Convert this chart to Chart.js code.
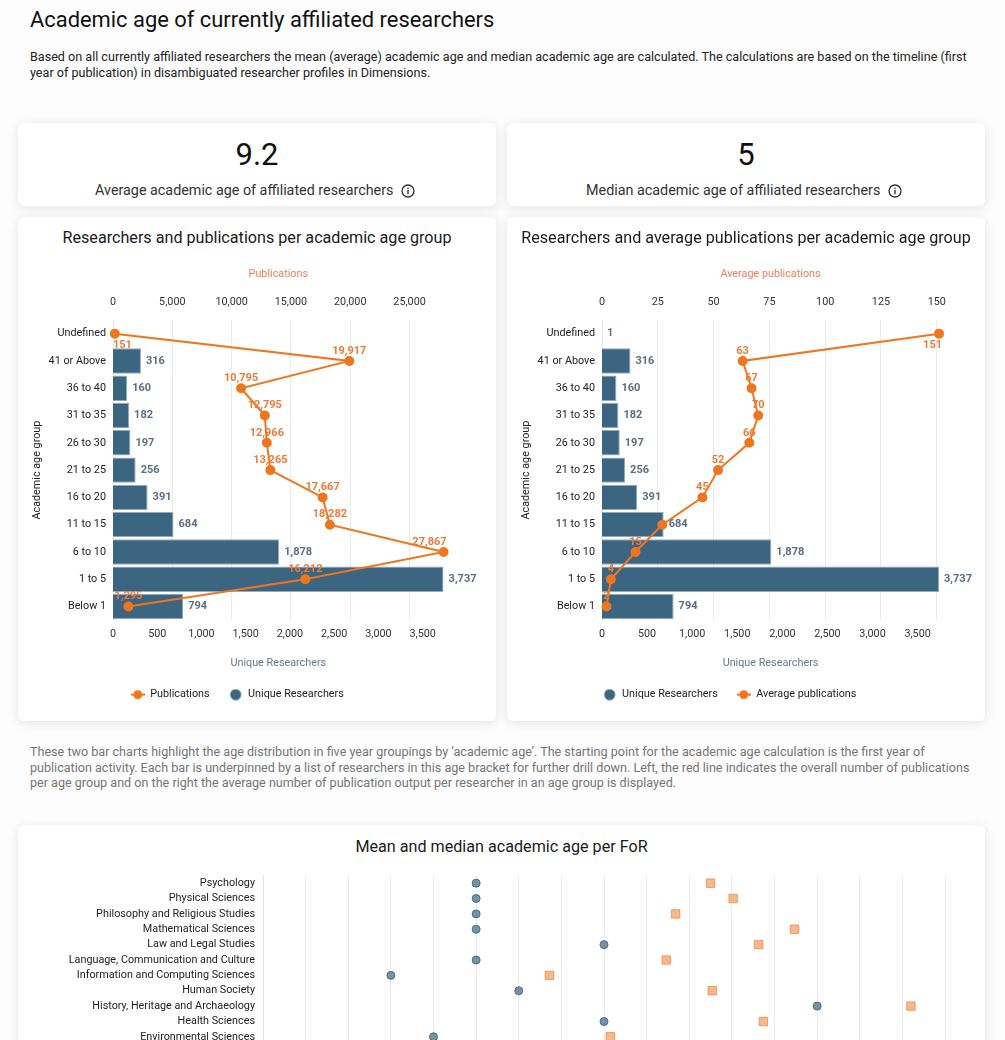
<!DOCTYPE html>
<html>
<head>
<meta charset="utf-8">
<title>Academic age of currently affiliated researchers</title>
<script src="https://cdn.jsdelivr.net/npm/chart.js@4"></script>
<style>
    html, body { margin: 0; padding: 0; width: 1005px; height: 1040px; overflow: hidden; background: #fdfdfd; }
    body { position: relative; font-family: Roboto, sans-serif; color: #111; }
    .text { position: absolute; white-space: nowrap; }
    #mainTitle { left: 30px; top: 6px; font-size: 21.9px; line-height: 28px; }
    #intro { left: 30px; top: 49px; font-size: 12.58px; line-height: 15.5px; color: #222; }
    #note { left: 30px; top: 744px; font-size: 12.58px; line-height: 15.5px; color: #757575; }
    .card { position: absolute; background: #fff; border-radius: 6px; box-shadow: 0 2px 12px rgba(0, 0, 0, 0.1); }
    .card canvas { position: absolute; left: 0; }
    .cardTitle { position: absolute; left: 0; right: 0; text-align: center; font-size: 16.15px; line-height: 20px; color: #1a1a1a; }
    .bigNumber { position: absolute; left: 0; right: 0; top: 13px; text-align: center; font-size: 31px; line-height: 38px; color: #111; }
    .caption { position: absolute; left: 0; right: 4px; top: 58px; text-align: center; font-size: 14.33px; line-height: 18px; color: #333; }
    .caption svg { vertical-align: -3px; margin-left: 4px; }
</style>
</head>
<body>
<div class="text" id="mainTitle">Academic age of currently affiliated researchers</div>
<div class="text" id="intro">Based on all currently affiliated researchers the mean (average) academic age and median academic age are calculated. The calculations are based on the timeline (first<br>year of publication) in disambiguated researcher profiles in Dimensions.</div>

<div class="card" style="left:18px;top:123px;width:478px;height:83px">
    <div class="bigNumber">9.2</div>
    <div class="caption">Average academic age of affiliated researchers
        <svg width="14" height="14" viewBox="0 0 14 14"><circle cx="7" cy="7" r="6" fill="none" stroke="#333" stroke-width="1.3"/><rect x="6.3" y="6" width="1.4" height="4.2" fill="#333"/><rect x="6.3" y="3.7" width="1.4" height="1.4" fill="#333"/></svg>
    </div>
</div>
<div class="card" style="left:507px;top:123px;width:478px;height:83px">
    <div class="bigNumber">5</div>
    <div class="caption">Median academic age of affiliated researchers
        <svg width="14" height="14" viewBox="0 0 14 14"><circle cx="7" cy="7" r="6" fill="none" stroke="#333" stroke-width="1.3"/><rect x="6.3" y="6" width="1.4" height="4.2" fill="#333"/><rect x="6.3" y="3.7" width="1.4" height="1.4" fill="#333"/></svg>
    </div>
</div>

<div class="card" style="left:18px;top:217px;width:478px;height:504px">
    <div class="cardTitle" style="top:11px">Researchers and publications per academic age group</div>
    <canvas id="publicationsChart" width="478" height="503" style="top:1px"></canvas>
</div>
<div class="card" style="left:507px;top:217px;width:478px;height:504px">
    <div class="cardTitle" style="top:11px">Researchers and average publications per academic age group</div>
    <canvas id="averageChart" width="478" height="503" style="top:1px"></canvas>
</div>

<div class="text" id="note">These two bar charts highlight the age distribution in five year groupings by ‘academic age’. The starting point for the academic age calculation is the first year of<br>publication activity. Each bar is underpinned by a list of researchers in this age bracket for further drill down. Left, the red line indicates the overall number of publications<br>per age group and on the right the average number of publication output per researcher in an age group is displayed.</div>

<div class="card" style="left:18px;top:825px;width:967px;height:400px">
    <div class="cardTitle" style="top:12px">Mean and median academic age per FoR</div>
    <canvas id="forChart" width="967" height="198" style="top:36px"></canvas>
</div>

<script>
const ageGroups = ['Undefined', '41 or Above', '36 to 40', '31 to 35', '26 to 30', '21 to 25', '16 to 20', '11 to 15', '6 to 10', '1 to 5', 'Below 1'];
const researchersLeft = [0, 316, 160, 182, 197, 256, 391, 684, 1878, 3737, 794];
const researchersRight = [1, 316, 160, 182, 197, 256, 391, 684, 1878, 3737, 794];
const publications = [151, 19917, 10795, 12795, 12966, 13265, 17667, 18282, 27867, 16212, 1295];
const averagePublications = [151, 63, 67, 70, 66, 52, 45, 27, 15, 4, 2];
const researcherTicks = [0, 500, 1000, 1500, 2000, 2500, 3000, 3500];
const publicationTicks = [0, 5000, 10000, 15000, 20000, 25000];
const averageTicks = [0, 25, 50, 75, 100, 125, 150];

const forCategories = ['Psychology', 'Physical Sciences', 'Philosophy and Religious Studies', 'Mathematical Sciences', 'Law and Legal Studies', 'Language, Communication and Culture', 'Information and Computing Sciences', 'Human Society', 'History, Heritage and Archaeology', 'Health Sciences', 'Environmental Sciences'];
const forMedian = [5, 5, 5, 5, 8, 5, 3, 6, 13, 8, 4];
const forMean = [10.5, 11.03, 9.68, 12.47, 11.63, 9.46, 6.72, 10.54, 15.2, 11.74, 8.15];

const BAR_COLOR = '#3c6581';
const LINE_COLOR = '#ee761f';
const LABEL_COLOR = '#ee7a38';
const FONT = 'Roboto';

function fmt(v) {
    return Number(v).toLocaleString('en-US');
}

function fixedTicks(values) {
    return function (scale) {
        scale.ticks = values.map(v => ({ value: v }));
    };
}

function iconCanvas(drawIcon) {
    const c = document.createElement('canvas');
    c.width = 14;
    c.height = 12;
    drawIcon(c.getContext('2d'));
    return c;
}

const lineIcon = iconCanvas(function (ctx) {
    ctx.fillStyle = LINE_COLOR;
    ctx.fillRect(0, 5, 14, 2);
    ctx.beginPath();
    ctx.arc(7, 6, 4.5, 0, Math.PI * 2);
    ctx.fill();
});
const barIcon = iconCanvas(function (ctx) {
    ctx.fillStyle = BAR_COLOR;
    ctx.beginPath();
    ctx.arc(7, 6, 5.5, 0, Math.PI * 2);
    ctx.fill();
});

// bar values right of the bars, line values above the points
const valueLabels = {
    id: 'valueLabels',
    afterDatasetsDraw(chart, args, opts) {
        const ctx = chart.ctx;
        const area = chart.chartArea;
        ctx.save();
        ctx.font = 'bold 11px ' + FONT;
        ctx.textBaseline = 'middle';
        chart.data.datasets.forEach(function (ds, i) {
            const meta = chart.getDatasetMeta(i);
            meta.data.forEach(function (el, j) {
                const text = fmt(ds.data[j]);
                if (ds.type === 'bar') {
                    if (ds.data[j] === 0) return;
                    ctx.fillStyle = '#5d6e7f';
                    ctx.textAlign = 'left';
                    ctx.fillText(text, el.x + 5, el.y);
                } else {
                    if (opts.hidden.includes(j)) return;
                    const w = ctx.measureText(text).width;
                    let x = el.x - w / 2;
                    x = Math.min(x, area.right + 3 - w);
                    x = Math.max(x, area.left);
                    ctx.fillStyle = LABEL_COLOR;
                    ctx.textAlign = 'left';
                    ctx.fillText(text, x, j === 0 ? el.y + 12 : el.y - 10);
                }
            });
        });
        ctx.restore();
    }
};

function ageChart(canvasId, datasets, topTitle, topMax, topTicks, plotRight, hidden) {
    return new Chart(document.getElementById(canvasId), {
        data: { labels: ageGroups, datasets: datasets },
        plugins: [valueLabels],
        options: {
            responsive: false,
            animation: false,
            indexAxis: 'y',
            layout: { padding: { left: 13, right: 478 - plotRight, top: 40, bottom: 11 } },
            scales: {
                y: {
                    grid: { display: false, drawTicks: false },
                    border: { color: '#dfe7f0', width: 1 },
                    ticks: { color: '#222', font: { family: FONT, size: 10.8 }, padding: 7, autoSkip: false },
                    title: { display: true, text: 'Academic age group', color: '#222', font: { family: FONT, size: 10.8 }, padding: 0 },
                    afterFit(scale) { scale.width = 82; }
                },
                x: {
                    position: 'bottom',
                    min: 0,
                    max: 3737,
                    grid: { display: false, drawTicks: false },
                    border: { display: false },
                    afterBuildTicks: fixedTicks(researcherTicks),
                    ticks: { maxRotation: 0, padding: 8, color: '#333', font: { family: FONT, size: 10.8 }, callback: fmt },
                    title: { display: true, text: 'Unique Researchers', color: '#64798c', font: { family: FONT, size: 10.8 }, padding: 0 },
                    afterFit(scale) { scale.height = 50; }
                },
                x2: {
                    position: 'top',
                    min: 0,
                    max: topMax,
                    grid: { color: '#ebebeb', drawTicks: false },
                    border: { display: false },
                    afterBuildTicks: fixedTicks(topTicks),
                    ticks: { maxRotation: 0, padding: 11, color: '#333', font: { family: FONT, size: 10.8 }, callback: fmt },
                    title: { display: true, text: topTitle, color: '#f27c5a', font: { family: FONT, size: 10.8 }, padding: { top: 10, bottom: 0 } },
                    afterFit(scale) { scale.height = 62; }
                }
            },
            plugins: {
                tooltip: { enabled: false },
                valueLabels: { hidden: hidden },
                legend: {
                    position: 'bottom',
                    labels: {
                        usePointStyle: true,
                        pointStyleWidth: 14,
                        padding: 19,
                        color: '#222',
                        font: { family: FONT, size: 10.8 },
                        sort: (a, b) => a.datasetIndex - b.datasetIndex,
                        generateLabels(chart) {
                            return Chart.defaults.plugins.legend.labels.generateLabels(chart).map(function (item) {
                                item.pointStyle = chart.data.datasets[item.datasetIndex].type === 'bar' ? barIcon : lineIcon;
                                return item;
                            });
                        }
                    }
                }
            }
        }
    });
}

function barSeries(values) {
    return {
        type: 'bar',
        label: 'Unique Researchers',
        data: values,
        xAxisID: 'x',
        order: 2,
        backgroundColor: BAR_COLOR,
        borderColor: '#93aabb',
        borderWidth: 1,
        barPercentage: 0.93,
        categoryPercentage: 1
    };
}

function lineSeries(label, values) {
    return {
        type: 'line',
        label: label,
        data: values,
        xAxisID: 'x2',
        order: 1,
        clip: false,
        borderColor: LINE_COLOR,
        backgroundColor: LINE_COLOR,
        borderWidth: 2,
        pointRadius: 4,
        pointBackgroundColor: LINE_COLOR,
        pointBorderColor: LINE_COLOR,
        tension: 0
    };
}

ageChart('publicationsChart', [lineSeries('Publications', publications), barSeries(researchersLeft)], 'Publications', 27867, publicationTicks, 425.6, []);
ageChart('averageChart', [barSeries(researchersRight), lineSeries('Average publications', averagePublications)], 'Average publications', 151, averageTicks, 432, [7]);

new Chart(document.getElementById('forChart'), {
    type: 'line',
    data: {
        labels: forCategories,
        datasets: [
            { label: 'Median', data: forMedian, showLine: false, clip: false, pointStyle: 'circle', pointRadius: 4, pointBackgroundColor: 'rgba(60,101,129,0.7)', pointBorderColor: 'rgba(60,101,129,0.9)', pointBorderWidth: 1 },
            { label: 'Mean', data: forMean, showLine: false, clip: false, pointStyle: 'rect', pointRadius: 6, pointBackgroundColor: 'rgba(238,125,49,0.55)', pointBorderColor: 'rgba(238,125,49,0.65)', pointBorderWidth: 1 }
        ]
    },
    options: {
        responsive: false,
        animation: false,
        indexAxis: 'y',
        layout: { padding: { left: 0, right: 40, top: 13, bottom: 3 } },
        scales: {
            x: {
                min: 0,
                max: 16,
                grid: { color: '#ebebeb', drawTicks: false },
                border: { display: false },
                ticks: { display: false, stepSize: 1 },
                afterFit(scale) { scale.height = 0; }
            },
            y: {
                offset: true,
                grid: { display: false, drawTicks: false },
                border: { color: '#e3e3e3' },
                ticks: { color: '#222', font: { family: FONT, size: 10.8 }, padding: 8, autoSkip: false },
                afterFit(scale) { scale.width = 245; }
            }
        },
        plugins: { legend: { display: false }, tooltip: { enabled: false } }
    }
});
</script>
</body>
</html>
